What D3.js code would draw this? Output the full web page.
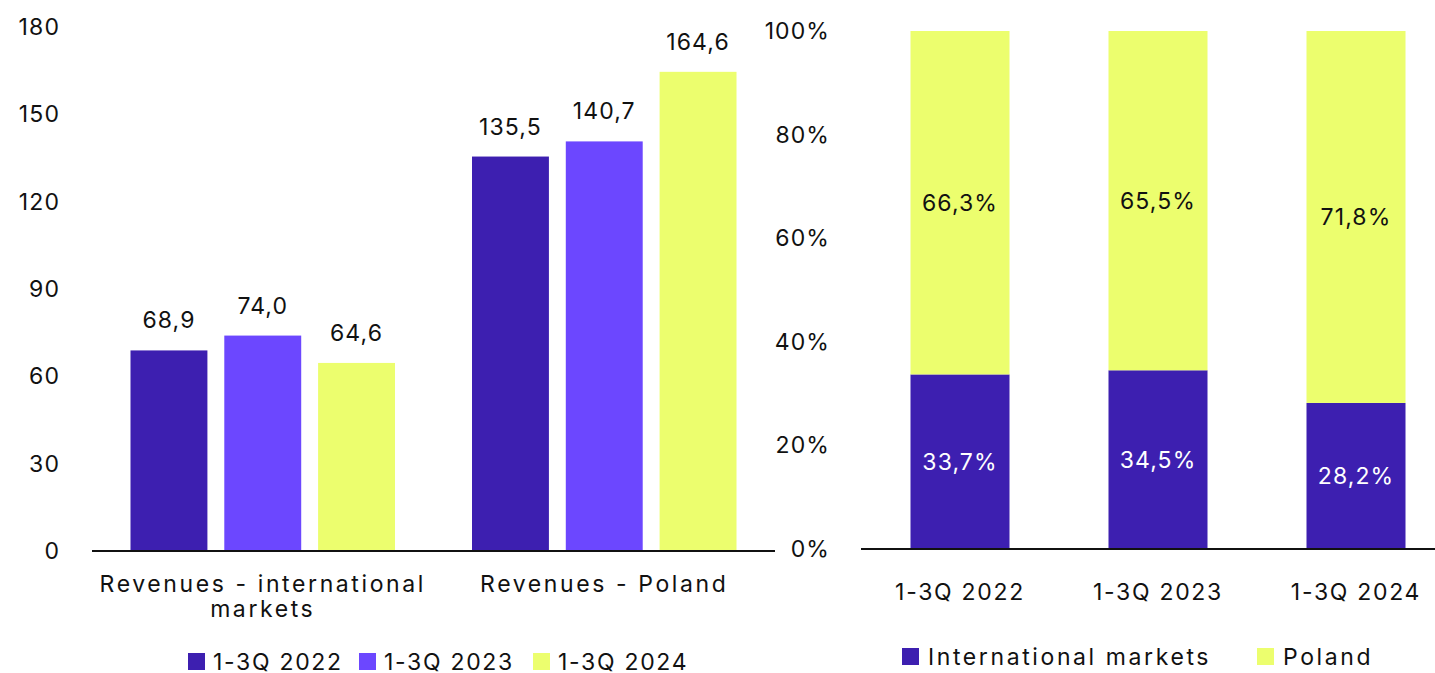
<!DOCTYPE html>
<html>
<head>
<meta charset="utf-8">
<script src="https://cdn.jsdelivr.net/npm/d3@7"></script>
<style>
  body { margin: 0; background: #fff; }
  text { font-family: Inter, "Open Sans", sans-serif; fill: #111; font-size: 23px; }
  .num { letter-spacing: 1.1px; }
  .per { letter-spacing: 1.7px; }
  .word { letter-spacing: 2.6px; }
</style>
</head>
<body>
<div id="chart"></div>
<script>
// data
const groups = ["Revenues - international markets", "Revenues - Poland"]
const periods = ["1-3Q 2022", "1-3Q 2023", "1-3Q 2024"]
const revenues = [
  [68.9, 74.0, 64.6],    // international markets
  [135.5, 140.7, 164.6]  // Poland
]
const leftTicks = [0, 30, 60, 90, 120, 150, 180]

const shareKeys = ["International markets", "Poland"]
const shareIntl = [33.7, 34.5, 28.2]
const sharePoland = [66.3, 65.5, 71.8]
const rightTicks = [0, 20, 40, 60, 80, 100]

const colors = ["#3d1fb0", "#6c47ff", "#ecfe6e"]
const fmt = v => v.toFixed(1).replace(".", ",")

const W = 1435, H = 673
const svg = d3.select("#chart").append("svg")
  .attr("width", W).attr("height", H)

// ---------- left chart ----------
const y = d3.scaleLinear().domain([0, 180]).range([551, 27])
const x0 = d3.scaleBand().domain(groups).range([92, 775]).paddingInner(0).paddingOuter(0)
const x1 = d3.scaleBand().domain(periods).range([38.5, x0.bandwidth() - 38.5]).paddingInner(0.18)

svg.append("g").selectAll("text")
  .data(leftTicks).enter().append("text")
    .attr("class", "num")
    .attr("x", 60)
    .attr("y", d => y(d))
    .attr("dy", "0.35em")
    .attr("text-anchor", "end")
    .text(d => d)

const grp = svg.append("g").selectAll("g")
  .data(groups).enter().append("g")
    .attr("transform", d => "translate(" + x0(d) + ",0)")

grp.selectAll("rect")
  .data((d, i) => revenues[i].map((v, j) => ({ period: periods[j], value: v, j: j })))
  .enter().append("rect")
    .attr("x", d => x1(d.period))
    .attr("y", d => y(d.value))
    .attr("width", x1.bandwidth())
    .attr("height", d => y(0) - y(d.value))
    .style("fill", d => colors[d.j])

grp.selectAll("text.val")
  .data((d, i) => revenues[i].map((v, j) => ({ period: periods[j], value: v })))
  .enter().append("text")
    .attr("class", "val num")
    .attr("x", d => x1(d.period) + x1.bandwidth() / 2)
    .attr("y", d => y(d.value) - 22)
    .attr("text-anchor", "middle")
    .text(d => fmt(d.value))

svg.append("line")
  .attr("x1", 92).attr("x2", 775)
  .attr("y1", y(0)).attr("y2", y(0))
  .style("stroke", "#111").style("stroke-width", 2)

// category labels (first one wraps)
const catLines = [["Revenues - international", "markets"], ["Revenues - Poland"]]
svg.append("g").selectAll("text")
  .data(groups).enter().append("text")
    .attr("class", "word")
    .attr("x", d => x0(d) + x0.bandwidth() / 2)
    .attr("y", 592)
    .attr("text-anchor", "middle")
    .each(function(d, i) {
      d3.select(this).selectAll("tspan")
        .data(catLines[i]).enter().append("tspan")
          .attr("x", x0(d) + x0.bandwidth() / 2)
          .attr("dy", (_, k) => k === 0 ? 0 : 25)
          .text(t => t)
    })

// legend left
const legL = svg.append("g")
const legLX = [188, 359, 533]
periods.forEach((p, i) => {
  legL.append("rect")
    .attr("x", legLX[i]).attr("y", 653)
    .attr("width", 17).attr("height", 17)
    .style("fill", colors[i])
  legL.append("text")
    .attr("class", "per")
    .attr("x", legLX[i] + 25).attr("y", 662)
    .attr("dy", "0.35em")
    .text(p)
})

// ---------- right chart ----------
const yr = d3.scaleLinear().domain([0, 100]).range([549, 31])
const xr = d3.scaleBand().domain(periods).range([861, 1455]).paddingInner(0.5).paddingOuter(0.25)

svg.append("g").selectAll("text")
  .data(rightTicks).enter().append("text")
    .attr("class", "num")
    .attr("x", 830)
    .attr("y", d => yr(d))
    .attr("dy", "0.35em")
    .attr("text-anchor", "end")
    .text(d => d + "%")

const stackData = periods.map((p, i) => ({ period: p, "International markets": shareIntl[i], "Poland": sharePoland[i] }))
const stacked = d3.stack().keys(shareKeys)(stackData)
const shareColor = d3.scaleOrdinal().domain(shareKeys).range([colors[0], colors[2]])

const layers = svg.append("g").selectAll("g")
  .data(stacked).enter().append("g")
    .style("fill", d => shareColor(d.key))

layers.selectAll("rect")
  .data(d => d).enter().append("rect")
    .attr("x", d => xr(d.data.period))
    .attr("y", d => yr(d[1]))
    .attr("width", xr.bandwidth())
    .attr("height", d => yr(d[0]) - yr(d[1]))

layers.each(function(layer) {
  d3.select(this).selectAll("text")
    .data(layer).enter().append("text")
      .attr("class", "num")
      .attr("x", d => xr(d.data.period) + xr.bandwidth() / 2)
      .attr("y", d => (yr(d[0]) + yr(d[1])) / 2)
      .attr("dy", "0.35em")
      .attr("text-anchor", "middle")
      .style("fill", layer.key === "Poland" ? "#111" : "#fff")
      .text(d => fmt(d[1] - d[0]) + "%")
})

svg.append("line")
  .attr("x1", 861).attr("x2", W)
  .attr("y1", yr(0)).attr("y2", yr(0))
  .style("stroke", "#111").style("stroke-width", 2)

svg.append("g").selectAll("text")
  .data(periods).enter().append("text")
    .attr("class", "per")
    .attr("x", d => xr(d) + xr.bandwidth() / 2)
    .attr("y", 592)
    .attr("dy", "0.35em")
    .attr("text-anchor", "middle")
    .text(d => d)

// legend right
const legR = svg.append("g")
const legRX = [902, 1257]
shareKeys.forEach((k, i) => {
  legR.append("rect")
    .attr("x", legRX[i]).attr("y", 648)
    .attr("width", 17).attr("height", 17)
    .style("fill", shareColor(k))
  legR.append("text")
    .attr("class", "word")
    .attr("x", legRX[i] + 26).attr("y", 657)
    .attr("dy", "0.35em")
    .text(k)
})
</script>
</body>
</html>
